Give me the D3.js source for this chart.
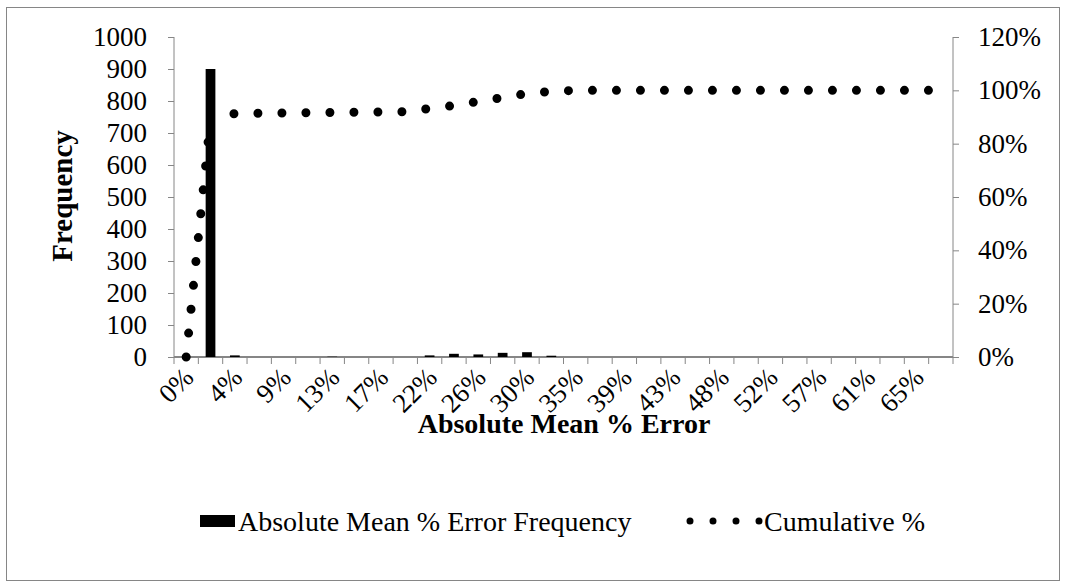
<!DOCTYPE html>
<html>
<head>
<meta charset="utf-8">
<script src="https://cdn.jsdelivr.net/npm/d3@7"></script>
<style>
  body { margin: 0; background: #fff; }
  svg text { font-family: "Liberation Serif", "Times New Roman", serif; fill: #000; }
</style>
</head>
<body>
<div id="chart"></div>
<script>
// bins of absolute mean % error (every other one gets a label)
var categories = ["0%", "2%", "4%", "7%", "9%", "11%", "13%", "15%", "17%", "20%",
  "22%", "24%", "26%", "28%", "30%", "33%", "35%", "37%", "39%", "41%",
  "43%", "46%", "48%", "50%", "52%", "54%", "57%", "59%", "61%", "63%", "65%", "67%"];
var frequency = [0, 900, 5, 0, 0, 0, 1, 0, 0, 0,
  5, 10, 8, 13, 15, 4, 0, 0, 0, 0,
  0, 0, 0, 0, 0, 0, 0, 0, 0, 0, 0, 0];
var cumulative = [0, 89.6, 91.3, 91.4, 91.5, 91.6, 91.7, 91.8, 91.9, 92.0,
  93.2, 94.3, 95.8, 97.3, 98.8, 99.6, 100, 100, 100, 100,
  100, 100, 100, 100, 100, 100, 100, 100, 100, 100, 100, 100];
var leftTicks = [0, 100, 200, 300, 400, 500, 600, 700, 800, 900, 1000];
var rightTicks = [0, 20, 40, 60, 80, 100, 120];

var width = 1066, height = 587;
var m = {left: 174, right: 113, top: 37, bottom: 230};
var axisColor = "#868686";

var svg = d3.select("#chart").append("svg").attr("width", width).attr("height", height);

// outer frame
svg.append("rect").attr("x", 6.5).attr("y", 7.5).attr("width", 1053).attr("height", 573)
  .attr("fill", "none").attr("stroke", axisColor).attr("stroke-width", 1);

var x = d3.scaleBand().domain(categories).range([m.left, width - m.right]);
var yL = d3.scaleLinear().domain([0, 1000]).range([height - m.bottom, m.top]);
var yR = d3.scaleLinear().domain([0, 120]).range([height - m.bottom, m.top]);
var y0 = yL(0);

// left axis
var gl = svg.append("g").attr("transform", "translate(" + m.left + ",0)")
  .call(d3.axisLeft(yL).tickValues(leftTicks).tickSize(6).tickPadding(21)
    .tickFormat(d3.format("d")));
// right axis
var gr = svg.append("g").attr("transform", "translate(" + (width - m.right) + ",0)")
  .call(d3.axisRight(yR).tickValues(rightTicks).tickSize(6).tickPadding(19)
    .tickFormat(function(d) { return d + "%"; }));
[gl, gr].forEach(function(g) {
  g.selectAll("path,line").attr("stroke", axisColor);
  g.select(".domain").attr("d", "M0," + yL(1000) + "V" + y0);
  g.selectAll("text").attr("font-size", 27).attr("font-family", "Liberation Serif");
});

// x axis: line, ticks at band boundaries, labels on every other bin
var gx = svg.append("g");
gx.append("line").attr("x1", m.left).attr("x2", width - m.right)
  .attr("y1", y0).attr("y2", y0).attr("stroke", axisColor).attr("stroke-width", 2);
var bounds = categories.map(function(c) { return x(c); }).concat([x.range()[1]]);
gx.selectAll(".tk").data(bounds).enter().append("line")
  .attr("x1", function(d) { return d; }).attr("x2", function(d) { return d; })
  .attr("y1", y0).attr("y2", y0 + 7).attr("stroke", axisColor);
gx.selectAll(".lbl").data(categories.filter(function(c, i) { return i % 2 === 0; }))
  .enter().append("text")
  .attr("text-anchor", "end")
  .attr("font-size", 27)
  .attr("transform", function(d) {
    return "translate(" + (x(d) + x.bandwidth() / 2 + 9) + "," + (y0 + 22) + ") rotate(-45)";
  })
  .text(function(d) { return d; });

// bars
var bw = x.bandwidth() / 2.5;
svg.selectAll(".bar").data(frequency).enter().append("rect")
  .attr("x", function(d, i) { return x(categories[i]) + (x.bandwidth() - bw) / 2; })
  .attr("y", function(d) { return yL(d); })
  .attr("width", bw)
  .attr("height", function(d) { return y0 - yL(d); })
  .attr("fill", "#000");

// cumulative % as round-dot line
var line = d3.line()
  .x(function(d, i) { return x(categories[i]) + x.bandwidth() / 2; })
  .y(function(d) { return yR(d); });
svg.append("path").datum(cumulative).attr("d", line)
  .attr("fill", "none").attr("stroke", "#000").attr("stroke-width", 9)
  .attr("stroke-linecap", "round").attr("stroke-dasharray", "0 24");

// axis titles
svg.append("text").attr("x", 564).attr("y", 433).attr("text-anchor", "middle")
  .attr("font-size", 28).attr("font-weight", "bold").text("Absolute Mean % Error");
svg.append("text").attr("transform", "translate(72,196) rotate(-90)")
  .attr("text-anchor", "middle").attr("font-size", 29).attr("font-weight", "bold")
  .text("Frequency");

// legend
var lg = svg.append("g");
lg.append("rect").attr("x", 200).attr("y", 515).attr("width", 35).attr("height", 12).attr("fill", "#000");
lg.append("text").attr("x", 238).attr("y", 531).attr("font-size", 28)
  .text("Absolute Mean % Error Frequency");
lg.append("line").attr("x1", 690).attr("x2", 760).attr("y1", 521).attr("y2", 521)
  .attr("stroke", "#000").attr("stroke-width", 7).attr("stroke-linecap", "round")
  .attr("stroke-dasharray", "0 23");
lg.append("text").attr("x", 764).attr("y", 531).attr("font-size", 28).text("Cumulative %");
</script>
</body>
</html>
